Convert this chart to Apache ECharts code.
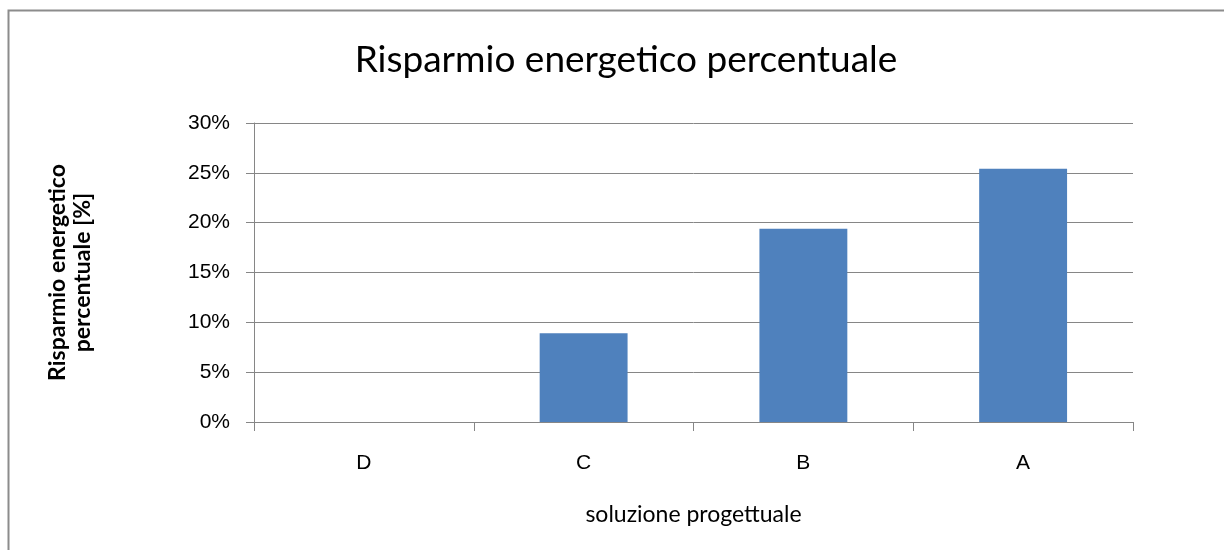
<!DOCTYPE html>
<html>
<head>
<meta charset="utf-8">
<script src="https://cdn.jsdelivr.net/npm/echarts@6/dist/echarts.min.js"></script>
<style>html,body{margin:0;padding:0;background:#fff}#c{width:1224px;height:550px}</style>
</head>
<body>
<div id="c"></div>
<script>
const categories = ['D', 'C', 'B', 'A'];
const savings = [0, 8.9, 19.4, 25.4];
const yTicks = [0, 5, 10, 15, 20, 25, 30];
const titleText = 'Risparmio energetico percentuale';
const xName = 'soluzione progettuale';
const yName = 'Risparmio energetico\npercentuale [%]';

const chart = echarts.init(document.getElementById('c'));
chart.setOption({
  backgroundColor: '#ffffff',
  animation: false,
  title: {
    text: titleText,
    left: 621,
    textAlign: 'center',
    top: 37,
    textStyle: { fontFamily: 'Lato', fontSize: 37, fontWeight: 'normal', color: '#000' }
  },
  graphic: [{
    type: 'rect',
    shape: { x: 8.5, y: 10.5, width: 1400, height: 800 },
    style: { fill: 'none', stroke: '#8c8c8c', lineWidth: 2 },
    silent: true
  }],
  grid: { left: 254, right: 91, top: 123, bottom: 128 },
  xAxis: {
    type: 'category',
    data: categories,
    name: xName,
    nameLocation: 'middle',
    nameGap: 81,
    nameTextStyle: { fontFamily: 'Lato', fontSize: 23, color: '#000' },
    axisLine: { lineStyle: { color: '#868686', width: 1 } },
    axisTick: { show: true, length: 9, alignWithLabel: false, lineStyle: { color: '#868686' } },
    axisLabel: { margin: 31, fontFamily: 'Liberation Sans', fontSize: 21, color: '#000' }
  },
  yAxis: {
    type: 'value',
    min: 0, max: 30, interval: 5,
    name: yName,
    nameLocation: 'middle',
    nameGap: 159,
    nameRotate: 90,
    nameTextStyle: { fontFamily: 'Lato', fontSize: 23, fontWeight: 'bold', color: '#000', lineHeight: 25, align: 'center' },
    axisLine: { show: true, lineStyle: { color: '#868686', width: 1 } },
    axisTick: { show: true, length: 8, lineStyle: { color: '#868686' } },
    axisLabel: {
      margin: 24, fontFamily: 'Liberation Sans', fontSize: 21, color: '#000',
      formatter: v => yTicks.includes(v) ? v + '%' : ''
    },
    splitLine: { lineStyle: { color: '#868686', width: 1 } }
  },
  series: [{
    type: 'bar',
    data: savings,
    barWidth: '40%',
    itemStyle: { color: '#4F81BD' }
  }]
});
</script>
</body>
</html>
